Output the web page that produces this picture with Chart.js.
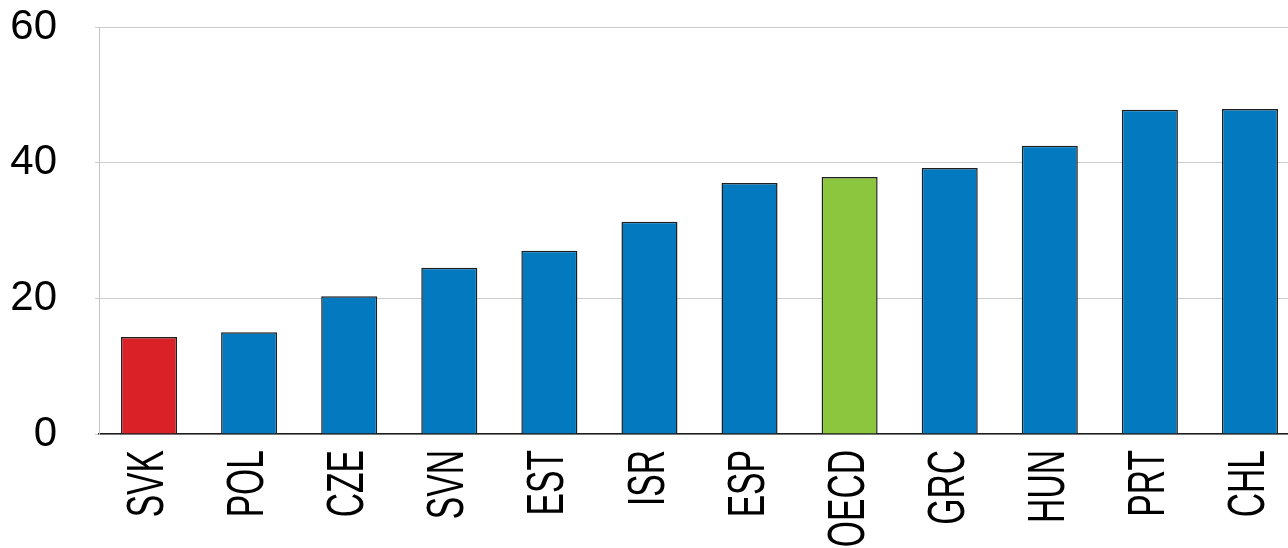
<!DOCTYPE html>
<html>
<head>
<meta charset="utf-8">
<script src="https://cdn.jsdelivr.net/npm/chart.js@4.4.1/dist/chart.umd.min.js"></script>
<style>
  html, body { margin: 0; padding: 0; background: #fff; overflow: hidden; }
  #wrap { width: 1300px; height: 548px; position: relative; }
</style>
</head>
<body>
<div id="wrap"><canvas id="chartBars"></canvas></div>
<script>
const countries = ['SVK', 'POL', 'CZE', 'SVN', 'EST', 'ISR', 'ESP', 'OECD', 'GRC', 'HUN', 'PRT', 'CHL'];
const values = [14.3, 15.0, 20.3, 24.5, 27.0, 31.3, 37.0, 37.9, 39.2, 42.5, 47.8, 47.9];
const yTicks = [0, 20, 40, 60];

const BLUE = '#037AC0', RED = '#DA2128', GREEN = '#8CC63F';
const barColors = countries.map(c => c === 'SVK' ? RED : (c === 'OECD' ? GREEN : BLUE));

// x labels: rotated and a bit condensed, like the original
const rotatedLabels = {
    id: 'rotatedLabels',
    afterDraw(chart) {
        const ctx = chart.ctx;
        const xScale = chart.scales.x;
        const top = chart.chartArea.bottom + 16;
        ctx.save();
        ctx.font = '51px "Liberation Sans", Arial, sans-serif';
        ctx.fillStyle = '#000';
        ctx.textAlign = 'right';
        ctx.textBaseline = 'middle';
        chart.data.labels.forEach(function (label, i) {
            const x = xScale.getPixelForTick(i);
            ctx.save();
            ctx.translate(x, top);
            ctx.rotate(-Math.PI / 2);
            ctx.scale(0.66, 1);
            ctx.fillText(label, 0, 0);
            ctx.restore();
        });
        ctx.restore();
    }
};

new Chart(document.getElementById('chartBars'), {
    type: 'bar',
    data: {
        labels: countries,
        datasets: [{
            data: values,
            backgroundColor: barColors,
            borderColor: '#1e1e1e',
            borderWidth: 1.5,
            barPercentage: 0.56,
            categoryPercentage: 1.0
        }]
    },
    options: {
        responsive: true,
        maintainAspectRatio: false,
        animation: false,
        layout: { padding: { top: 27, bottom: 114, left: 0, right: 0 } },
        plugins: {
            legend: { display: false },
            tooltip: { enabled: false }
        },
        scales: {
            x: {
                grid: { display: true, drawOnChartArea: false, drawTicks: false },
                border: { color: '#1e1e1e', width: 1.5 },
                ticks: { display: false }
            },
            y: {
                min: 0,
                max: 60,
                afterBuildTicks: function (scale) {
                    scale.ticks = yTicks.map(v => ({ value: v }));
                },
                afterFit: function (scale) {
                    scale.width = 99;
                    scale.paddingTop = 0;
                    scale.paddingBottom = 0;
                },
                grid: { color: '#cccccc', lineWidth: 1, tickLength: 4 },
                border: { color: '#c4c4c4', width: 1 },
                ticks: {
                    padding: 38,
                    color: '#000',
                    font: { family: '"Liberation Sans", Arial, sans-serif', size: 42 }
                }
            }
        }
    },
    plugins: [rotatedLabels]
});
</script>
</body>
</html>
